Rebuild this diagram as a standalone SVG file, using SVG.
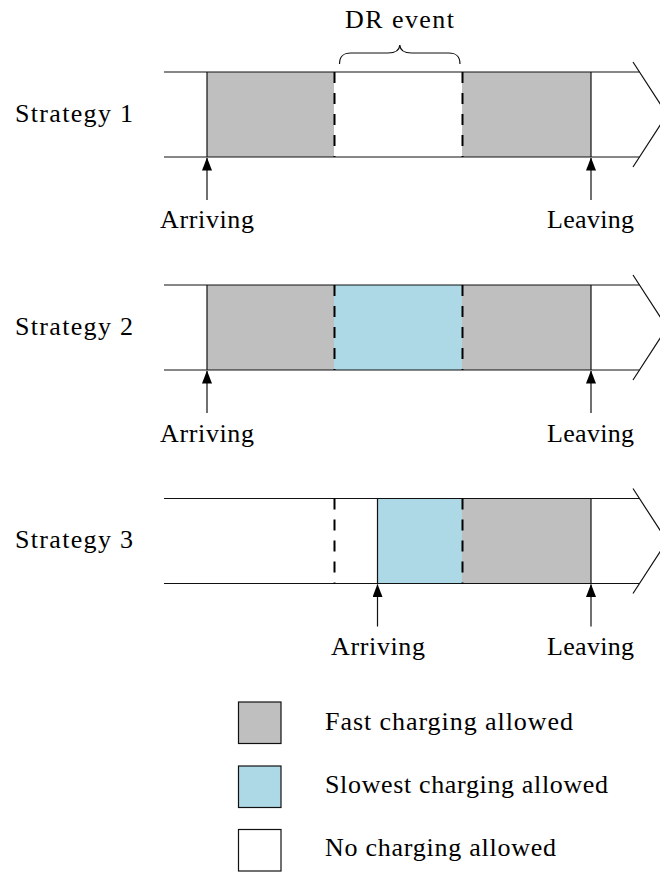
<svg xmlns="http://www.w3.org/2000/svg" width="660" height="873" viewBox="0 0 660 873">
<defs>
<style>
text{font-family:"Liberation Serif","Times New Roman",serif;font-size:26px;fill:#000}
.ln{stroke:#111;stroke-width:1.2;fill:none}
.ds{stroke:#000;stroke-width:2;stroke-dasharray:11 10;fill:none}
.gray{fill:#BFBFBF}
.blue{fill:#ADD8E6}
.box{stroke:#111;stroke-width:1.2}
</style>
<marker id="ah" viewBox="0 0 13 10" refX="12.5" refY="5" markerWidth="13" markerHeight="10" markerUnits="userSpaceOnUse" orient="auto">
<path d="M0,0 L13,5 L0,10 Z" fill="#000"/>
</marker>
</defs>
<rect width="660" height="873" fill="#fff"/>

<g id="strategy1">
<rect class="gray" x="207" y="72" width="127" height="85"/>
<rect class="gray" x="462" y="72" width="129" height="85"/>
<line class="ln" x1="164" y1="72" x2="639.5" y2="72"/>
<line class="ln" x1="164" y1="157" x2="639.5" y2="157"/>
<path class="ln" d="M633,62 L667,114.5 L633,167"/>
<line class="ln" x1="207" y1="72" x2="207" y2="157"/>
<line class="ln" x1="591" y1="72" x2="591" y2="157"/>
<line class="ds" x1="334.5" y1="72" x2="334.5" y2="157"/>
<line class="ds" x1="462.5" y1="72" x2="462.5" y2="157"/>
<text x="15" y="122" textLength="118" lengthAdjust="spacing">Strategy 1</text>
<text x="160" y="228" textLength="94" lengthAdjust="spacing">Arriving</text>
<text x="547" y="228" textLength="87" lengthAdjust="spacing">Leaving</text>
</g>

<g id="dr-event">
<path class="ln" d="M339.5,64 C339.5,56 343,53 351,53 L388,53 C395,53 399.5,50 399.8,45 C400.1,50 404.5,53 411.5,53 L448.5,53 C456.5,53 460,56 460,64"/>
<text x="345" y="28" textLength="109" lengthAdjust="spacing">DR event</text>
</g>

<g id="strategy2">
<rect class="gray" x="207" y="285" width="127" height="85"/>
<rect class="blue" x="334" y="285" width="128" height="85"/>
<rect class="gray" x="462" y="285" width="129" height="85"/>
<line class="ln" x1="164" y1="285" x2="639.5" y2="285"/>
<line class="ln" x1="164" y1="370" x2="639.5" y2="370"/>
<path class="ln" d="M633,275 L667,327.5 L633,380"/>
<line class="ln" x1="207" y1="285" x2="207" y2="370"/>
<line class="ln" x1="591" y1="285" x2="591" y2="370"/>
<line class="ds" x1="334.5" y1="285" x2="334.5" y2="370"/>
<line class="ds" x1="462.5" y1="285" x2="462.5" y2="370"/>
<text x="15" y="335" textLength="118" lengthAdjust="spacing">Strategy 2</text>
<text x="160" y="441.5" textLength="94" lengthAdjust="spacing">Arriving</text>
<text x="547" y="441.5" textLength="87" lengthAdjust="spacing">Leaving</text>
</g>

<g id="strategy3">
<rect class="blue" x="377.5" y="498.5" width="85" height="85"/>
<rect class="gray" x="462" y="498.5" width="129" height="85"/>
<line class="ln" x1="164" y1="498.5" x2="639.5" y2="498.5"/>
<line class="ln" x1="164" y1="583.5" x2="639.5" y2="583.5"/>
<path class="ln" d="M633,488.5 L667,541 L633,593.5"/>
<line class="ln" x1="377.5" y1="498.5" x2="377.5" y2="583.5"/>
<line class="ln" x1="591" y1="498.5" x2="591" y2="583.5"/>
<line class="ds" x1="334.5" y1="498.5" x2="334.5" y2="583.5"/>
<line class="ds" x1="462.5" y1="498.5" x2="462.5" y2="583.5"/>
<text x="15" y="548" textLength="118" lengthAdjust="spacing">Strategy 3</text>
<text x="331" y="655" textLength="94" lengthAdjust="spacing">Arriving</text>
<text x="547" y="655" textLength="87" lengthAdjust="spacing">Leaving</text>
</g>

<g id="connectors">
<line class="ln" x1="207" y1="200" x2="207" y2="158" marker-end="url(#ah)"/>
<line class="ln" x1="591" y1="200" x2="591" y2="158" marker-end="url(#ah)"/>
<line class="ln" x1="207" y1="413" x2="207" y2="371" marker-end="url(#ah)"/>
<line class="ln" x1="591" y1="413" x2="591" y2="371" marker-end="url(#ah)"/>
<line class="ln" x1="377.5" y1="626.5" x2="377.5" y2="584.5" marker-end="url(#ah)"/>
<line class="ln" x1="591" y1="626.5" x2="591" y2="584.5" marker-end="url(#ah)"/>
</g>

<g id="legend-fast">
<rect class="gray box" x="238.5" y="702" width="42.5" height="41.5"/>
<text x="325" y="729.5" textLength="248" lengthAdjust="spacing">Fast charging allowed</text>
</g>
<g id="legend-slowest">
<rect class="blue box" x="238.5" y="766" width="42.5" height="41.5"/>
<text x="325" y="793" textLength="283" lengthAdjust="spacing">Slowest charging allowed</text>
</g>
<g id="legend-none">
<rect class="box" fill="#fff" x="238.5" y="829.5" width="42.5" height="41.5"/>
<text x="325" y="856" textLength="231" lengthAdjust="spacing">No charging allowed</text>
</g>
</svg>
